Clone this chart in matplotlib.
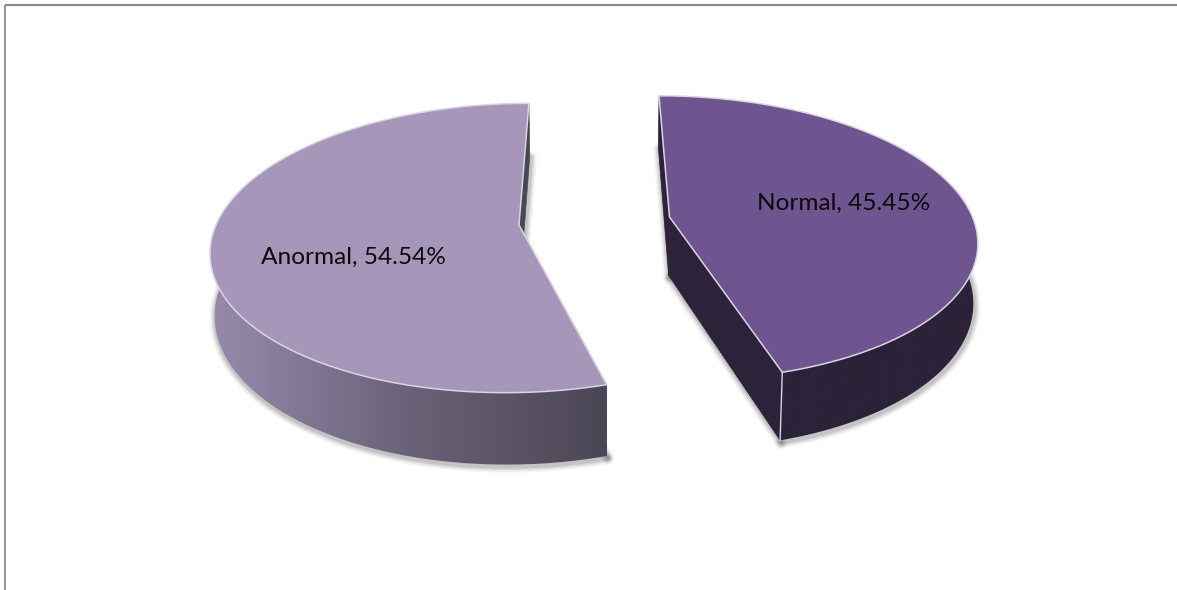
import numpy as np
import matplotlib
matplotlib.use("Agg")
import matplotlib.pyplot as plt
from matplotlib.colors import LinearSegmentedColormap
from matplotlib.patches import Polygon

# chart data
labels = ["Normal", "Anormal"]
values = [45.45, 54.54]

W, H = 1177, 590

# per-slice projection, in pixels: apex, width, height, skew, perspective, depth
views = {
    "Normal":  dict(cx=669.5, cy=217, a=303, b=139, s=-12, k=0.147, d=58.5),
    "Anormal": dict(cx=519.0, cy=225, a=303, b=141, s=11.5, k=0.159, d=60.5),
}
top_colors = {"Normal": "#6f5590", "Anormal": "#a596ba"}
side_cmaps = {
    "Normal": LinearSegmentedColormap.from_list("n", ["#2c2239", "#2c2239"]),
    "Anormal": LinearSegmentedColormap.from_list("a", ["#4b4655", "#6a6278", "#968bad"]),
}
label_pos = {"Normal": (844, 203), "Anormal": (353, 257)}
EDGE = "#d9d5e2"
VANISH_X, CONVERGE = 600, 0.012  # vertical edges lean in slightly


def project(theta, r, v):
    """Unit pie coordinates (clockwise from 12 o'clock) to pixels, top and bottom rims."""
    u_, v_ = r * np.sin(theta), r * np.cos(theta)
    w = 1 + v["k"] * v_
    x = v["cx"] + (v["a"] * u_ + v["s"] * v_) / w
    y = v["cy"] - v["b"] * v_ / w
    return x, y, x - (x - VANISH_X) * CONVERGE, y + v["d"] / w


def draw_slice(ax, name, start, end):
    v = views[name]
    th = np.linspace(start, end, 240)
    x, y, xb, yb = project(th, 1.0, v)
    ax0, ay0, axb0, ayb0 = project(0.0, 0.0, v)
    cmap = side_cmaps[name]
    front = np.cos(th) < 0.35

    # soft shadow under the lower rim and the cut faces only
    for lw, al in zip([9, 7, 5, 3], [0.035, 0.05, 0.07, 0.09]):
        ax.plot(xb[front] + 1, yb[front] + 2, color="#000000", lw=lw, alpha=al,
                zorder=1, solid_capstyle="round")
        for px, pb in ((xb[0], yb[0]), (xb[-1], yb[-1])):
            ax.plot([axb0 + 1, px + 1], [ayb0 + 2, pb + 2], color="#000000", lw=lw,
                    alpha=al, zorder=1, solid_capstyle="round")

    # cut faces
    dark = cmap(0.0)
    for i in (0, -1):
        ax.fill([x[i], ax0, axb0, xb[i]], [y[i], ay0, ayb0, yb[i]],
                color=dark, lw=0.5, zorder=2)

    # outer rim, a left-to-right gradient clipped to the rim shape
    rim_x = np.r_[x[front], xb[front][::-1]]
    rim_y = np.r_[y[front], yb[front][::-1]]
    rim = Polygon(np.c_[rim_x, rim_y], closed=True, transform=ax.transData)
    grad = np.linspace(1, 0, 256)[None, :]
    im = ax.imshow(grad, cmap=cmap, vmin=0, vmax=1, aspect="auto", zorder=3,
                   extent=(rim_x.min(), rim_x.max(), rim_y.max(), rim_y.min()))
    im.set_clip_path(rim)

    # top face
    ax.fill(np.r_[ax0, x], np.r_[ay0, y], fc=top_colors[name], ec=EDGE, lw=1.1,
            zorder=4, joinstyle="round")


fig = plt.figure(figsize=(W / 100, H / 100), dpi=100)
ax = fig.add_axes([0, 0, 1, 1])

# chart frame: only top and left show in the crop
ax.plot([5, W], [5, 5], color="#8c8c8c", lw=1.6, solid_capstyle="butt")
ax.plot([5, 5], [5, H], color="#999999", lw=1.6, solid_capstyle="butt")

total = sum(values)
start = 0.0
for name, val in zip(labels, values):
    end = start + 2 * np.pi * val / total
    draw_slice(ax, name, start, end)
    # light vertical edge on the front corner
    if name == "Normal":
        x_e, y_e, xb_e, yb_e = project(end, 1.0, views[name])
        ax.plot([x_e, xb_e], [y_e, yb_e], color=EDGE, lw=1.0, zorder=5)
    ax.text(*label_pos[name], f"{name}, {val:.2f}%", ha="center", va="center",
            fontsize=17.6, family=["Lato", "DejaVu Sans"], color="#0a0a0a", zorder=6)
    start = end

ax.set_xlim(0, W)
ax.set_ylim(H, 0)
ax.axis("off")

fig.savefig("out.png", dpi=100)
